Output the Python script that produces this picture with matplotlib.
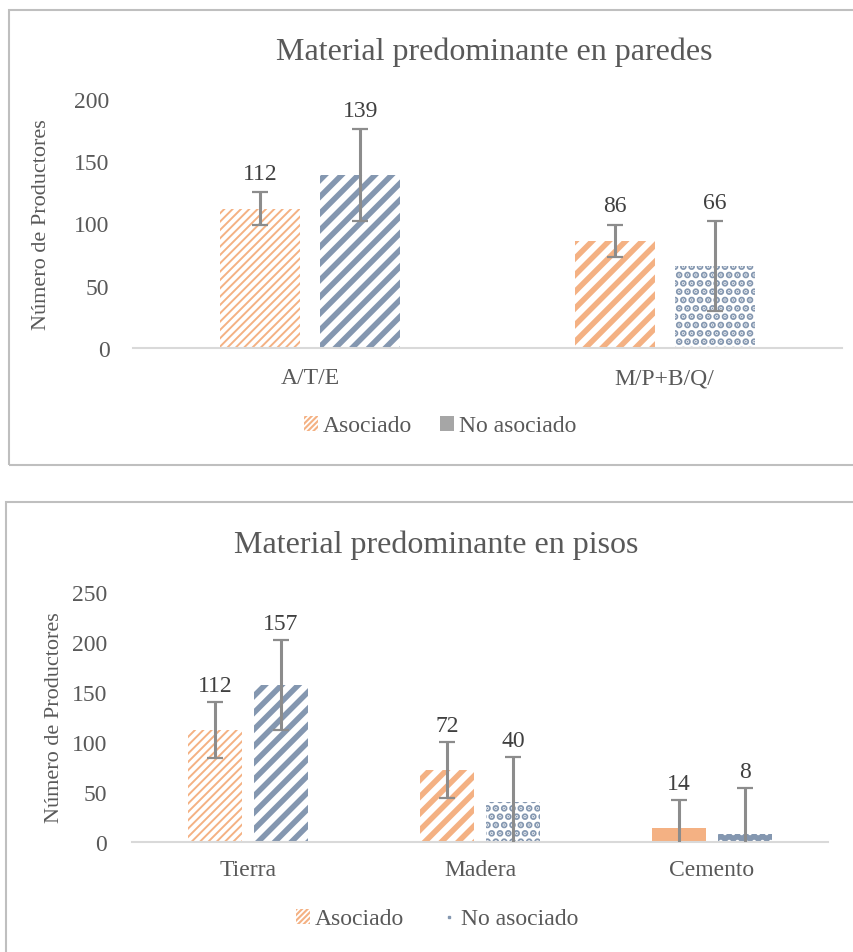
import matplotlib
matplotlib.use("Agg")
import matplotlib.pyplot as plt
from matplotlib.patches import Patch, Rectangle
from matplotlib.lines import Line2D
import numpy as np

# datos - paredes
paredes_cat = ["A/T/E", "M/P+B/Q/"]
paredes_asoc = [112, 86]
paredes_no = [139, 66]
paredes_asoc_err = [13, 13]
paredes_no_err = [37, 36]

# datos - pisos
pisos_cat = ["Tierra", "Madera", "Cemento"]
pisos_asoc = [112, 72, 14]
pisos_no = [157, 40, 8]
pisos_asoc_err = [28, 28, 28]
pisos_no_err = [45, 45, 46]

W, H = 854, 953
ORANGE = "#F4B183"
BLUE = "#8497B0"
TXT = "#595959"
LBL = "#404040"

plt.rcParams["font.family"] = ["Liberation Serif", "DejaVu Serif"]
plt.rcParams["hatch.linewidth"] = 1.5

fig = plt.figure(figsize=(W / 100, H / 100), dpi=100)


def px_axes(left, top, right, bottom):
    return fig.add_axes([left / W, 1 - bottom / H, (right - left) / W, (bottom - top) / H])


def hatched_bars(ax, x, vals, width, color, hatches, hlw):
    bars = ax.bar(x, vals, width, facecolor="white", edgecolor=color, linewidth=0)
    for b, h, lw in zip(bars, hatches, hlw):
        if h == "solid":
            b.set_facecolor(color)
            b.set_hatch(None)
        elif h == "solid_dots":
            b.set_facecolor(color)
            b.set_edgecolor("white")
            b.set_hatch("..")
        else:
            b.set_hatch(h)
        if hasattr(b, "set_hatch_linewidth"):
            b.set_hatch_linewidth(lw)
    return bars


def err(ax, x, vals, errs):
    _, caps, lines = ax.errorbar(x, vals, yerr=errs, fmt="none", ecolor="#8c8c8c",
                                 elinewidth=2.2, capsize=6, capthick=1.6, zorder=5)
    for c in caps:
        c.set_color("#595959")


def labels(ax, x, vals, errs, off):
    for xi, v, e in zip(x, vals, errs):
        ax.annotate(str(v), (xi, v + e), xytext=(0, off), textcoords="offset points",
                    ha="center", va="bottom", fontsize=17, color=LBL)


def style(ax, cats, ymax, step, pad_x, pad_y):
    ax.set_xticks(range(len(cats)))
    ax.set_xticklabels(cats)
    ax.set_xlim(-0.5, len(cats) - 0.5)
    ax.set_ylim(0, ymax)
    ax.set_yticks(np.arange(0, ymax + 1, step))
    for s in ["top", "right", "left"]:
        ax.spines[s].set_visible(False)
    ax.spines["bottom"].set_color("#D9D9D9")
    ax.spines["bottom"].set_linewidth(1.5)
    ax.tick_params(axis="y", length=0, pad=pad_y, labelsize=17, labelcolor=TXT)
    ax.tick_params(axis="x", length=0, pad=pad_x, labelsize=17, labelcolor=TXT)


# marcos
fig.patches.append(Rectangle((9 / W, 1 - 466 / H), 860 / W, 455 / H, transform=fig.transFigure,
                             fill=False, edgecolor="#BFBFBF", linewidth=1.5))
fig.patches.append(Rectangle((6 / W, -0.05), 860 / W, 0.05 + 1 - 503 / H, transform=fig.transFigure,
                             fill=False, edgecolor="#BFBFBF", linewidth=1.5))

FINE, WIDE, DOTS = "////", "//", ".."

# ---- paredes
ax1 = px_axes(133, 100, 842, 349)
x1 = np.arange(len(paredes_cat))
bw1, off1 = 0.225, 0.141
hatched_bars(ax1, x1 - off1, paredes_asoc, bw1, ORANGE, [FINE, WIDE], [1.4, 4.0])
hatched_bars(ax1, x1 + off1, paredes_no, bw1, BLUE, [WIDE, DOTS], [4.0, 3.5])
err(ax1, x1 - off1, paredes_asoc, paredes_asoc_err)
err(ax1, x1 + off1, paredes_no, paredes_no_err)
labels(ax1, x1 - off1, paredes_asoc, paredes_asoc_err, 6)
labels(ax1, x1 + off1, paredes_no, paredes_no_err, 6)
style(ax1, paredes_cat, 200, 50, 14, 17)

fig.text(494 / W, 1 - 52 / H, "Material predominante en paredes", ha="center", va="center",
         fontsize=23, color=TXT)
fig.text(42 / W, 1 - 225 / H, "Número de Productores", rotation=90, ha="center", va="center",
         fontsize=16, color=TXT)
h_asoc = Patch(facecolor="white", edgecolor=ORANGE, hatch="//////", linewidth=0)
h_no = Patch(facecolor="#A6A6A6", edgecolor="#A6A6A6", linewidth=0)
fig.legend([h_asoc, h_no], ["Asociado", "No asociado"], loc="center",
           bbox_to_anchor=(440 / W, 1 - 427 / H), ncol=2, frameon=False, fontsize=17,
           handlelength=0.6, handleheight=0.6, handletextpad=0.2, columnspacing=1.2,
           labelcolor=TXT)

# ---- pisos
ax2 = px_axes(132, 593, 828, 843)
x2 = np.arange(len(pisos_cat))
bw2, off2 = 0.233, 0.142
hatched_bars(ax2, x2 - off2, pisos_asoc, bw2, ORANGE, [FINE, WIDE, "solid"], [1.4, 4.0, 1.0])
hatched_bars(ax2, x2 + off2, pisos_no, bw2, BLUE, [WIDE, DOTS, "solid_dots"], [4.0, 3.5, 1.5])
err(ax2, x2 - off2, pisos_asoc, pisos_asoc_err)
err(ax2, x2 + off2, pisos_no, pisos_no_err)
labels(ax2, x2 - off2, pisos_asoc, pisos_asoc_err, 4)
labels(ax2, x2 + off2, pisos_no, pisos_no_err, 4)
style(ax2, pisos_cat, 250, 50, 12, 18)

fig.text(436 / W, 1 - 545 / H, "Material predominante en pisos", ha="center", va="center",
         fontsize=23, color=TXT)
fig.text(55 / W, 1 - 718 / H, "Número de Productores", rotation=90, ha="center", va="center",
         fontsize=16, color=TXT)
h_no2 = Line2D([], [], linestyle="none", marker="s", markersize=2, color=BLUE)
fig.legend([h_asoc, h_no2], ["Asociado", "No asociado"], loc="center",
           bbox_to_anchor=(437 / W, 1 - 920 / H), ncol=2, frameon=False, fontsize=17,
           handlelength=0.6, handleheight=0.6, handletextpad=0.2, columnspacing=1.6,
           labelcolor=TXT)

fig.savefig("out.png", dpi=100, facecolor="white")
